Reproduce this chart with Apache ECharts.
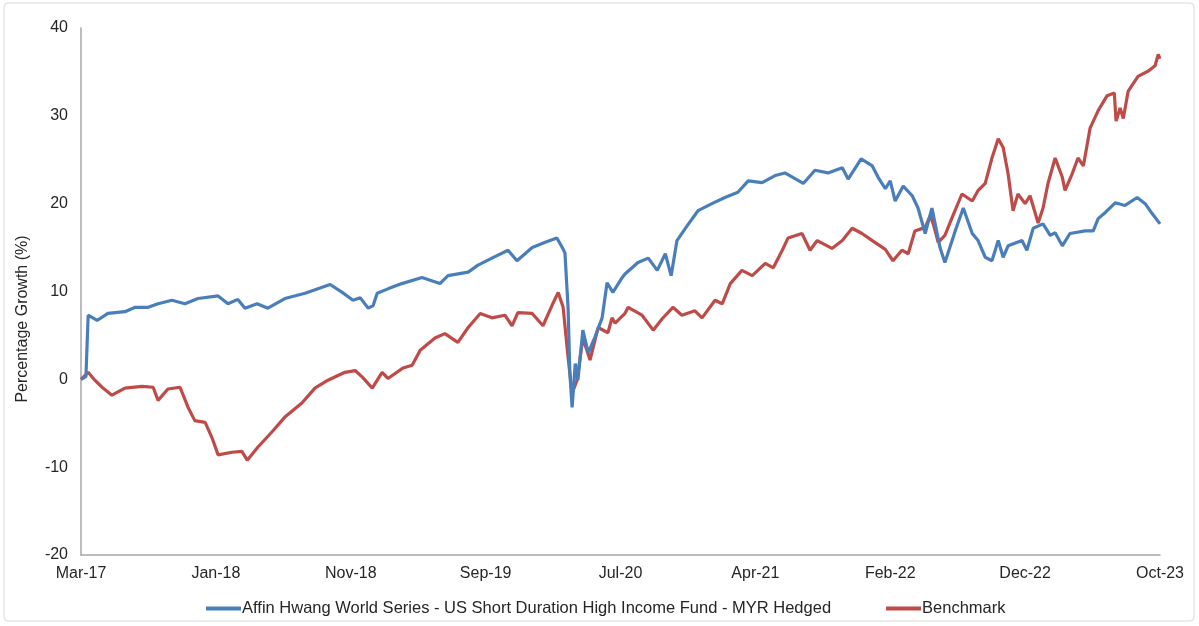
<!DOCTYPE html>
<html>
<head>
<meta charset="utf-8">
<title>Fund vs Benchmark</title>
<script src="https://cdn.jsdelivr.net/npm/echarts@6/dist/echarts.min.js"></script>
<style>
  html, body { margin: 0; padding: 0; background: #fff; }
  #chart { width: 1199px; height: 626px; }
</style>
</head>
<body>
<div id="chart"></div>
<script type="text/javascript">
// x = days since start (Mar-17), one label every 301 days
var xLabels = ['Mar-17', 'Jan-18', 'Nov-18', 'Sep-19', 'Jul-20', 'Apr-21', 'Feb-22', 'Dec-22', 'Oct-23'];

var fundDays = [0, 11, 16, 36, 60, 98, 121, 150, 172, 203, 232, 261, 306, 328, 350, 366, 393, 417, 455, 500,
    556, 583, 607, 623, 641, 652, 661, 685, 716, 761, 801, 819, 864, 886, 917, 953, 973, 1007, 1036, 1062,
    1074, 1080, 1087, 1091, 1096, 1103, 1109, 1120, 1132, 1147, 1163, 1174, 1187, 1208, 1214, 1243, 1266, 1286, 1304, 1317,
    1330, 1353, 1377, 1408, 1437, 1466, 1489, 1520, 1549, 1571, 1612, 1638, 1667, 1699, 1712, 1741, 1766, 1779, 1795, 1806,
    1817, 1835, 1855, 1868, 1884, 1899, 1917, 1928, 1951, 1969, 1989, 2002, 2018, 2033, 2047, 2058, 2069, 2100, 2111, 2125,
    2147, 2163, 2174, 2190, 2207, 2241, 2259, 2270, 2286, 2308, 2330, 2357, 2375, 2390, 2408];
var fundVals = [0, 0.3, 7.3, 6.7, 7.5, 7.7, 8.2, 8.2, 8.6, 9.0, 8.6, 9.2, 9.5, 8.6, 9.1, 8.1, 8.6, 8.1, 9.2, 9.8,
    10.8, 9.9, 9.0, 9.3, 8.1, 8.4, 9.8, 10.3, 10.9, 11.6, 10.9, 11.8, 12.2, 13.0, 13.8, 14.7, 13.5, 15.0, 15.6, 16.1,
    15.0, 14.4, 8.2, 0.7, -3.2, 1.8, -0.1, 5.6, 3.0, 4.8, 7.0, 11.0, 9.9, 11.6, 12.0, 13.3, 13.8, 12.4, 14.3, 11.8,
    15.8, 17.5, 19.2, 20.0, 20.7, 21.3, 22.6, 22.4, 23.2, 23.5, 22.3, 23.8, 23.5, 24.1, 22.8, 25.1, 24.3, 23.0, 21.7, 22.6,
    20.3, 22.0, 20.9, 19.5, 16.6, 19.5, 15.0, 13.3, 16.9, 19.5, 16.6, 15.8, 13.9, 13.5, 15.8, 13.9, 15.2, 15.8, 14.7, 17.2,
    17.7, 16.4, 16.7, 15.2, 16.6, 16.9, 16.9, 18.3, 19.0, 20.1, 19.8, 20.7, 20.0, 18.9, 17.7];

var benchDays = [0, 16, 31, 47, 69, 98, 136, 161, 172, 194, 221, 239, 254, 277, 292, 306, 337, 359, 371, 395,
    426, 455, 493, 522, 551, 589, 612, 629, 650, 672, 685, 719, 739, 757, 790, 812, 841, 864, 891, 917,
    946, 962, 975, 1007, 1031, 1051, 1065, 1076, 1087, 1096, 1107, 1120, 1136, 1154, 1176, 1185, 1192, 1214, 1221, 1252,
    1277, 1297, 1321, 1341, 1370, 1386, 1415, 1431, 1449, 1475, 1498, 1527, 1545, 1565, 1578, 1609, 1627, 1643, 1676, 1699,
    1721, 1743, 1766, 1795, 1812, 1832, 1846, 1861, 1884, 1895, 1902, 1913, 1928, 1944, 1966, 1989, 2002, 2018, 2033, 2047,
    2058, 2069, 2080, 2091, 2107, 2118, 2136, 2147, 2158, 2174, 2190, 2196, 2212, 2225, 2237, 2252, 2270, 2290, 2306, 2310,
    2319, 2326, 2337, 2359, 2382, 2397, 2404, 2408];
var benchVals = [0, 0.8, -0.1, -0.9, -1.8, -1.0, -0.8, -0.9, -2.4, -1.1, -0.9, -3.2, -4.7, -4.9, -6.6, -8.6, -8.3, -8.2, -9.2, -7.7,
    -6.0, -4.3, -2.7, -1.0, -0.1, 0.8, 1.0, 0.2, -1.0, 0.8, 0.1, 1.3, 1.6, 3.3, 4.7, 5.2, 4.2, 5.9, 7.5, 7.0,
    7.3, 6.1, 7.6, 7.5, 6.1, 8.4, 9.9, 8.2, 2.5, -1.6, -0.1, 4.7, 2.2, 5.9, 5.3, 7.0, 6.4, 7.5, 8.2, 7.3,
    5.6, 6.9, 8.2, 7.3, 7.8, 7.0, 9.0, 8.6, 10.9, 12.4, 11.8, 13.2, 12.7, 14.7, 16.1, 16.6, 14.7, 15.8, 14.9, 15.8,
    17.2, 16.6, 15.8, 14.8, 13.5, 14.7, 14.3, 16.9, 17.3, 18.6, 17.7, 15.6, 16.4, 18.4, 21.1, 20.3, 21.5, 22.3, 25.2, 27.4,
    26.4, 23.4, 19.2, 21.1, 20.0, 20.9, 17.8, 19.5, 22.3, 25.2, 23.0, 21.5, 23.4, 25.2, 24.3, 28.6, 30.6, 32.3, 32.6, 29.4,
    30.9, 29.7, 32.8, 34.5, 35.1, 35.7, 37.0, 36.5];

var fundName = 'Affin Hwang World Series - US Short Duration High Income Fund - MYR Hedged';
var benchName = 'Benchmark';

function pairs(xs, ys) {
    var out = [];
    for (var i = 0; i < xs.length; i++) out.push([xs[i], ys[i]]);
    return out;
}

var chart = echarts.init(document.getElementById('chart'));
var font = 'Liberation Sans, Arial, sans-serif';

var option = {
    animation: false,
    textStyle: {fontFamily: font},
    graphic: [
        {
            type: 'rect',
            shape: {x: 4, y: 3, width: 1190, height: 618, r: 4},
            style: {fill: 'none', stroke: '#d9d9d9', lineWidth: 1}
        },
        {
            type: 'text',
            x: 15, y: 319,
            rotation: Math.PI / 2,
            style: {
                text: 'Percentage Growth (%)',
                font: '16px ' + font,
                fill: '#262626',
                textAlign: 'center',
                textVerticalAlign: 'top'
            }
        }
    ],
    legend: {
        top: 595,
        left: 201,
        itemGap: 55,
        itemWidth: 35,
        itemHeight: 4,
        icon: 'rect',
        textStyle: {fontSize: 16.5, color: '#262626', fontFamily: font, padding: [0, 0, 0, -4]},
        data: [fundName, benchName]
    },
    grid: {left: 81, right: 39, top: 28, bottom: 71},
    xAxis: {
        type: 'value',
        min: 0,
        max: 2408,
        interval: 301,
        splitLine: {show: false},
        axisTick: {show: false},
        axisLine: {onZero: false, lineStyle: {color: '#a6a6a6', width: 1.5}},
        axisLabel: {
            fontSize: 16, color: '#262626', margin: 11,
            formatter: function (v) { return xLabels[Math.round(v / 301)] || ''; }
        }
    },
    yAxis: {
        type: 'value',
        min: -20,
        max: 40,
        interval: 10,
        splitLine: {show: false},
        axisTick: {show: false},
        axisLine: {show: true, lineStyle: {color: '#a6a6a6', width: 1.5}},
        axisLabel: {fontSize: 16, color: '#262626', margin: 13}
    },
    series: [
        {
            name: fundName,
            type: 'line',
            showSymbol: false,
            data: pairs(fundDays, fundVals),
            lineStyle: {color: '#4a7ebb', width: 3.2},
            itemStyle: {color: '#4a7ebb'},
            z: 3
        },
        {
            name: benchName,
            type: 'line',
            showSymbol: false,
            data: pairs(benchDays, benchVals),
            lineStyle: {color: '#be4b48', width: 3.2},
            itemStyle: {color: '#be4b48'},
            z: 2
        }
    ]
};
chart.setOption(option);
</script>
</body>
</html>
